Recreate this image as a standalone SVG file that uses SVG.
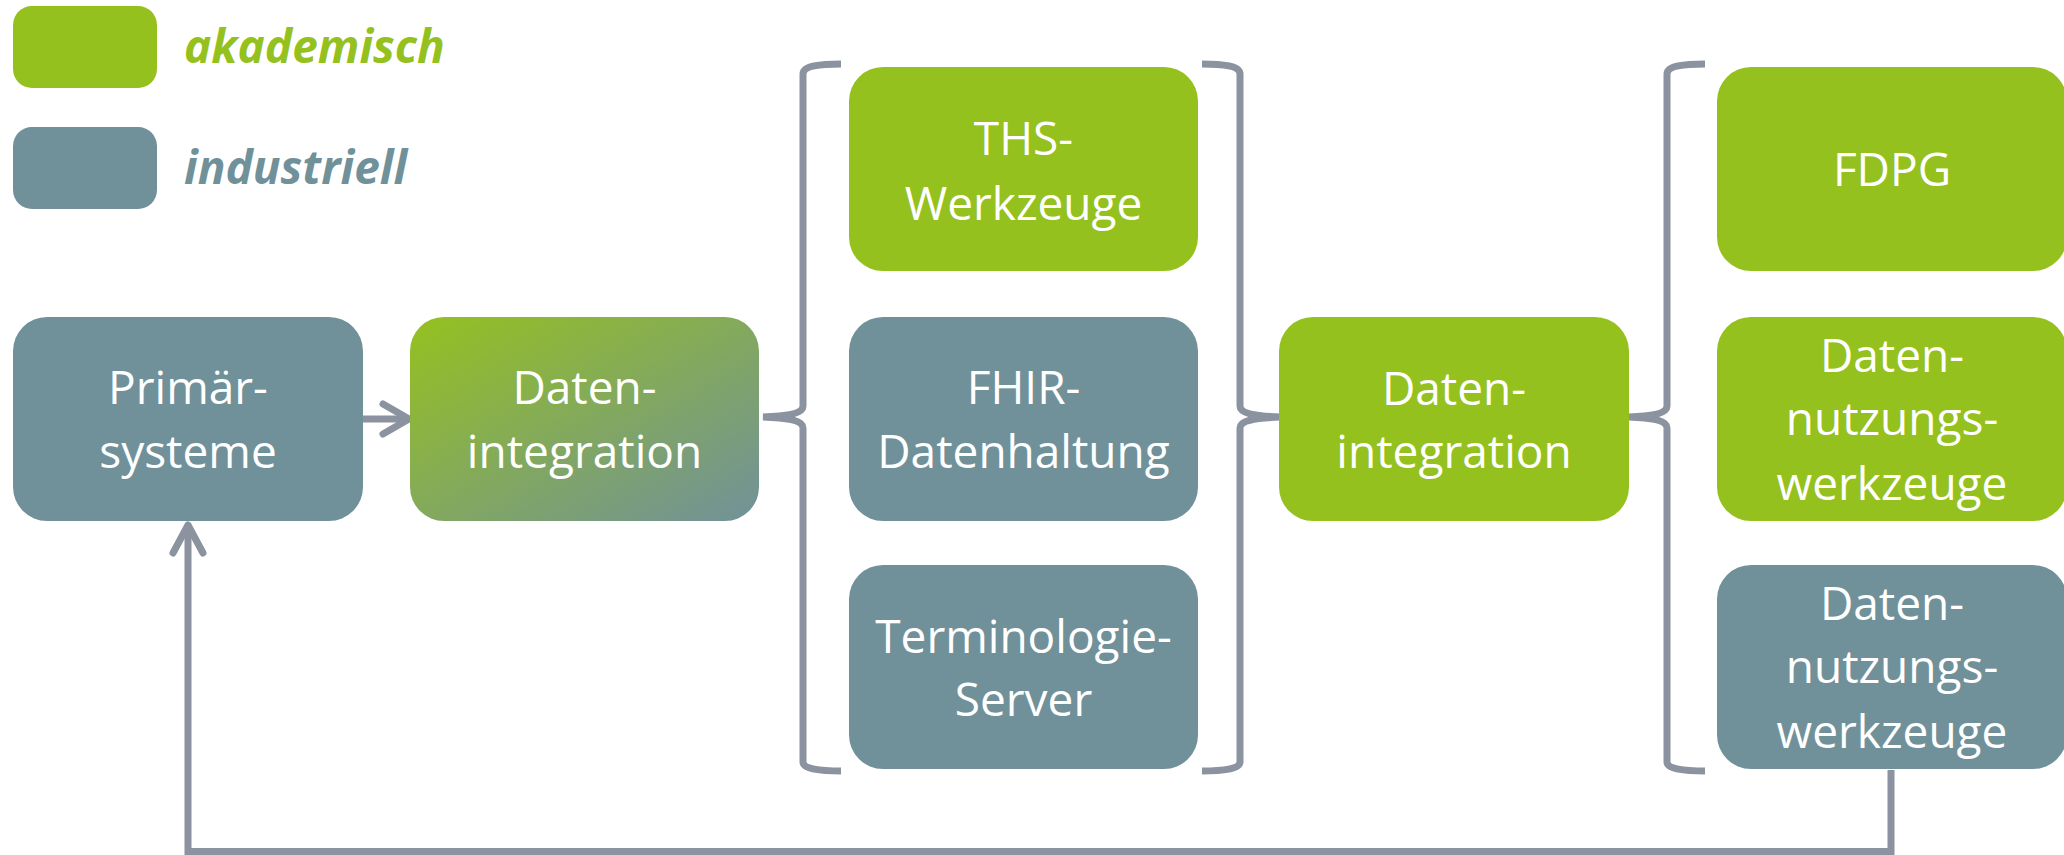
<svg xmlns="http://www.w3.org/2000/svg" width="2064" height="855" viewBox="0 0 2064 855">
<style>
.g{fill:#95C11F}
.t{fill:#71919A}
.lbl{font-family:"Open Sans","Liberation Sans",sans-serif;font-size:46px;fill:#FFFFFF;text-anchor:middle}
.leg{font-family:"Open Sans","Liberation Sans",sans-serif;font-size:46px;font-weight:bold;font-style:italic}
.ln{fill:none;stroke:#8B92A0;stroke-width:7}
.ar{fill:none;stroke:#8B92A0;stroke-width:7;stroke-linecap:round;stroke-linejoin:round}
</style>
<defs>
<linearGradient id="grad" x1="0" y1="0" x2="1" y2="1">
<stop offset="0" stop-color="#95C11F"/>
<stop offset="1" stop-color="#71919A"/>
</linearGradient>
</defs>
<rect width="2064" height="855" fill="#FFFFFF"/>
<g id="legend">
<rect class="g" x="13" y="6" width="144" height="82" rx="19"/>
<text class="leg" x="184" y="63" fill="#95C11F">akademisch</text>
<rect class="t" x="13" y="127" width="144" height="82" rx="19"/>
<text class="leg" x="184" y="184" fill="#71919A">industriell</text>
</g>
<g id="connectors">
<path class="ln" d="M841,64 C820,64 803,66 803,74 L803,406 C803,413 790,416 763,417 C790,418 803,421 803,428 L803,762 C803,769 820,771 841,771"/>
<path class="ln" d="M1202,64 C1223,64 1240,66 1240,74 L1240,406 C1240,413 1253,416 1280,417 C1253,418 1240,421 1240,428 L1240,762 C1240,769 1223,771 1202,771"/>
<path class="ln" d="M1705,64 C1684,64 1667,66 1667,74 L1667,406 C1667,413 1654,416 1629,417 C1654,418 1667,421 1667,428 L1667,762 C1667,769 1684,771 1705,771"/>
<path class="ln" d="M363,419 L406,419"/>
<path class="ar" d="M383,404 L409,419 L383,434"/>
<path class="ln" d="M1891,770 L1891,851.5 L188,851.5 L188,527"/>
<path class="ar" d="M173,553 L188,525 L203,553"/>
</g>
<g id="n-primaer">
<rect class="t" x="13" y="317" width="350" height="204" rx="34"/>
<text class="lbl" x="188" y="404">Primär-</text>
<text class="lbl" x="188" y="468">systeme</text>
</g>
<g id="n-datenintegration1">
<rect x="410" y="317" width="349" height="204" rx="34" fill="url(#grad)"/>
<text class="lbl" x="584.5" y="404">Daten-</text>
<text class="lbl" x="584.5" y="468">integration</text>
</g>
<g id="n-ths">
<rect class="g" x="849" y="67" width="349" height="204" rx="34"/>
<text class="lbl" x="1023.5" y="155">THS-</text>
<text class="lbl" x="1023.5" y="220">Werkzeuge</text>
</g>
<g id="n-fhir">
<rect class="t" x="849" y="317" width="349" height="204" rx="34"/>
<text class="lbl" x="1023.5" y="404">FHIR-</text>
<text class="lbl" x="1023.5" y="468">Datenhaltung</text>
</g>
<g id="n-terminologie">
<rect class="t" x="849" y="565" width="349" height="204" rx="34"/>
<text class="lbl" x="1023.5" y="653">Terminologie-</text>
<text class="lbl" x="1023.5" y="716">Server</text>
</g>
<g id="n-datenintegration2">
<rect class="g" x="1279" y="317" width="350" height="204" rx="34"/>
<text class="lbl" x="1454" y="405">Daten-</text>
<text class="lbl" x="1454" y="468">integration</text>
</g>
<g id="n-fdpg">
<rect class="g" x="1717" y="67" width="350" height="204" rx="34"/>
<text class="lbl" x="1892" y="186">FDPG</text>
</g>
<g id="n-nutzung-akad">
<rect class="g" x="1717" y="317" width="350" height="204" rx="34"/>
<text class="lbl" x="1892" y="372">Daten-</text>
<text class="lbl" x="1892" y="435">nutzungs-</text>
<text class="lbl" x="1892" y="500">werkzeuge</text>
</g>
<g id="n-nutzung-ind">
<rect class="t" x="1717" y="565" width="350" height="204" rx="34"/>
<text class="lbl" x="1892" y="620">Daten-</text>
<text class="lbl" x="1892" y="683">nutzungs-</text>
<text class="lbl" x="1892" y="748">werkzeuge</text>
</g>
</svg>
